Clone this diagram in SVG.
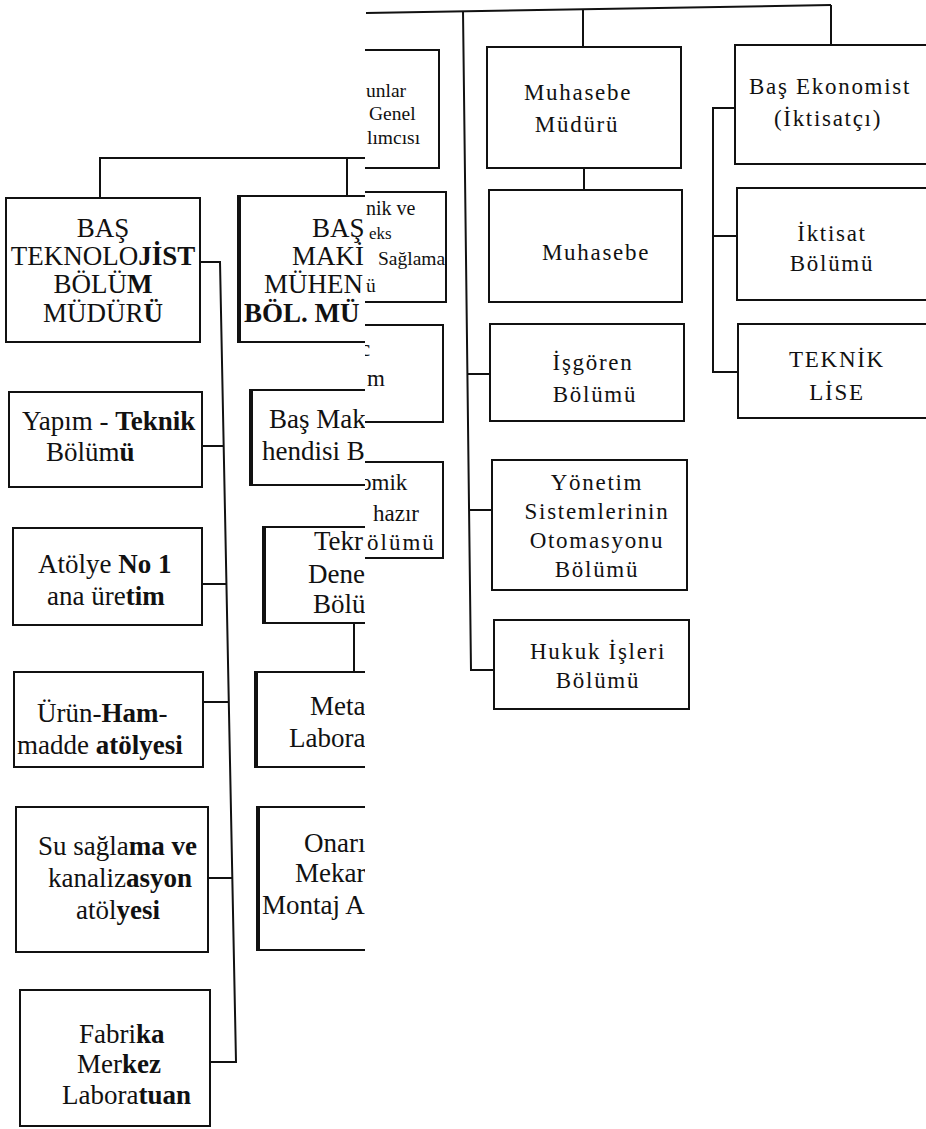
<svg xmlns="http://www.w3.org/2000/svg" width="926" height="1129" viewBox="0 0 926 1129">
<style>
.bx{fill:#fff;stroke:#111;stroke-width:2}
.ln{fill:none;stroke:#111;stroke-width:2}
.thk{fill:none;stroke:#111;stroke-width:4}
.tl{font-family:"Liberation Serif","Times New Roman",serif;font-size:27px;fill:#111}
.tr{font-family:"Liberation Serif","Times New Roman",serif;font-size:23px;letter-spacing:1.7px;fill:#111;text-anchor:middle}
.ts{font-family:"Liberation Serif","Times New Roman",serif;font-size:19.5px;fill:#111}
.tm{font-family:"Liberation Serif","Times New Roman",serif;font-size:23px;fill:#111}
.b{font-weight:bold}
</style>
<defs>
<clipPath id="cl"><rect x="0" y="0" width="365" height="1129"/></clipPath>
<clipPath id="cr"><rect x="365" y="0" width="561" height="1129"/></clipPath>
</defs>
<rect x="0" y="0" width="926" height="1129" fill="#fff"/>

<g id="left-page" clip-path="url(#cl)">
<g id="left-connectors">
<path class="ln" d="M100,198 V158 H366"/>
<path class="ln" d="M347,158 V196"/>
<path class="ln" d="M200,262 H220 L236,1062 H210"/>
<path class="ln" d="M202,446 H224"/>
<path class="ln" d="M202,584 H226"/>
<path class="ln" d="M203,702 H229"/>
<path class="ln" d="M208,878 H233"/>
<path class="ln" d="M354,623 V672"/>
</g>
<g id="n-bas-teknolojist">
<rect class="bx" x="6" y="198" width="194" height="144"/>
<text class="tl" x="103" y="237" text-anchor="middle">BAŞ</text>
<text class="tl" x="103" y="265" text-anchor="middle">TEKNOLO<tspan class="b">JİST</tspan></text>
<text class="tl" x="103" y="293" text-anchor="middle">BÖLÜ<tspan class="b">M</tspan></text>
<text class="tl" x="103" y="322" text-anchor="middle">MÜDÜR<tspan class="b">Ü</tspan></text>
</g>
<g id="n-yapim">
<rect class="bx" x="9" y="392" width="193" height="95"/>
<text class="tl" x="22" y="430">Yapım - <tspan class="b">Teknik</tspan></text>
<text class="tl" x="46" y="461">Bölüm<tspan class="b">ü</tspan></text>
</g>
<g id="n-atolye">
<rect class="bx" x="13" y="528" width="189" height="97"/>
<text class="tl" x="38" y="573">Atölye <tspan class="b">No 1</tspan></text>
<text class="tl" x="47" y="605">ana üre<tspan class="b">tim</tspan></text>
</g>
<g id="n-urun">
<rect class="bx" x="14" y="672" width="189" height="95"/>
<text class="tl" x="37" y="722">Ürün-<tspan class="b">Ham</tspan>-</text>
<text class="tl" x="17" y="754">madde  <tspan class="b">atölyesi</tspan></text>
</g>
<g id="n-su">
<rect class="bx" x="16" y="807" width="192" height="145"/>
<text class="tl" x="38" y="855">Su sağla<tspan class="b">ma ve</tspan></text>
<text class="tl" x="48" y="887">kanaliz<tspan class="b">asyon</tspan></text>
<text class="tl" x="76" y="919">atöl<tspan class="b">yesi</tspan></text>
</g>
<g id="n-fabrika">
<rect class="bx" x="20" y="990" width="190" height="136"/>
<text class="tl" x="79" y="1043">Fabri<tspan class="b">ka</tspan></text>
<text class="tl" x="77" y="1073">Mer<tspan class="b">kez</tspan></text>
<text class="tl" x="62" y="1104">Labora<tspan class="b">tuan</tspan></text>
</g>
<g id="n-bas-makine">
<rect class="bx" x="238" y="196" width="200" height="146"/>
<path class="thk" d="M239,196 V342"/>
<text class="tl" x="312" y="237">BAŞ</text>
<text class="tl" x="292" y="265">MAKİ</text>
<text class="tl" x="264" y="293">MÜHEN</text>
<text class="tl b" x="244" y="322">BÖL. MÜ</text>
</g>
<g id="n-bas-makine-muh">
<rect class="bx" x="250" y="390" width="200" height="95"/>
<path class="thk" d="M251,390 V485"/>
<text class="tl" x="269" y="428">Baş Mak</text>
<text class="tl" x="262" y="460">hendisi B</text>
</g>
<g id="n-tekn">
<rect class="bx" x="263" y="527" width="200" height="96"/>
<path class="thk" d="M264,527 V623"/>
<text class="tl" x="314" y="550">Tekr</text>
<text class="tl" x="308" y="583">Dene</text>
<text class="tl" x="313" y="613">Bölü</text>
</g>
<g id="n-meta">
<rect class="bx" x="255" y="672" width="200" height="95"/>
<path class="thk" d="M256,672 V767"/>
<text class="tl" x="310" y="715">Meta</text>
<text class="tl" x="289" y="747">Labora</text>
</g>
<g id="n-onarim">
<rect class="bx" x="257" y="807" width="200" height="143"/>
<path class="thk" d="M258,807 V950"/>
<text class="tl" x="304" y="852">Onarı</text>
<text class="tl" x="295" y="882">Mekar</text>
<text class="tl" x="262" y="914">Montaj A</text>
</g>
</g>

<g id="right-page" clip-path="url(#cr)">
<g id="right-connectors">
<path class="ln" d="M366,13 L831,5"/>
<path class="ln" d="M463,11 L471,670 H494"/>
<path class="ln" d="M467,374 H490"/>
<path class="ln" d="M469,510 H492"/>
<path class="ln" d="M583,9 V47"/>
<path class="ln" d="M584,168 V190"/>
<path class="ln" d="M831,5 V45"/>
<path class="ln" d="M735,108 H713 V372 H738"/>
<path class="ln" d="M713,236 H737"/>
</g>
<g id="n-genel">
<rect class="bx" x="300" y="50" width="139" height="118"/>
<text class="ts" x="366" y="97">unlar</text>
<text class="ts" x="369" y="120">Genel</text>
<text class="ts" x="367" y="144">lımcısı</text>
</g>
<g id="n-saglama">
<rect class="bx" x="300" y="192" width="146" height="110"/>
<text class="ts" x="366" y="215" style="font-size:20px">nik ve</text>
<text class="ts" x="369" y="239" style="font-size:17px">eks</text>
<text class="ts" x="378" y="265">Sağlama</text>
<text class="ts" x="366" y="292">ü</text>
</g>
<g id="n-m">
<rect class="bx" x="300" y="325" width="143" height="97"/>
<text class="tm" x="360" y="356">c</text>
<text class="tm" x="367" y="386">m</text>
</g>
<g id="n-omik">
<rect class="bx" x="300" y="462" width="143" height="96"/>
<text class="tm" x="360" y="490">omik</text>
<text class="tm" x="373" y="521">hazır</text>
<text class="tm" x="367" y="550" style="letter-spacing:2px">ölümü</text>
</g>
<g id="n-muhasebe-muduru">
<rect class="bx" x="487" y="47" width="194" height="121"/>
<text class="tr" x="578" y="100">Muhasebe</text>
<text class="tr" x="577" y="132">Müdürü</text>
</g>
<g id="n-muhasebe">
<rect class="bx" x="489" y="190" width="193" height="112"/>
<text class="tr" x="596" y="260">Muhasebe</text>
</g>
<g id="n-isgoren">
<rect class="bx" x="490" y="324" width="194" height="97"/>
<text class="tr" x="593" y="370">İşgören</text>
<text class="tr" x="595" y="402">Bölümü</text>
</g>
<g id="n-yonetim">
<rect class="bx" x="492" y="460" width="195" height="130"/>
<text class="tr" x="597" y="490">Yönetim</text>
<text class="tr" x="597" y="519">Sistemlerinin</text>
<text class="tr" x="597" y="548">Otomasyonu</text>
<text class="tr" x="597" y="577">Bölümü</text>
</g>
<g id="n-hukuk">
<rect class="bx" x="494" y="620" width="195" height="89"/>
<text class="tr" x="598" y="659">Hukuk İşleri</text>
<text class="tr" x="598" y="688">Bölümü</text>
</g>
<g id="n-bas-ekonomist">
<rect class="bx" x="735" y="45" width="200" height="119"/>
<text class="tr" x="830" y="94">Baş Ekonomist</text>
<text class="tr" x="828" y="126">(İktisatçı)</text>
</g>
<g id="n-iktisat">
<rect class="bx" x="737" y="188" width="200" height="112"/>
<text class="tr" x="832" y="241">İktisat</text>
<text class="tr" x="832" y="271">Bölümü</text>
</g>
<g id="n-teknik-lise">
<rect class="bx" x="738" y="324" width="200" height="94"/>
<text class="tr" x="837" y="367">TEKNİK</text>
<text class="tr" x="837" y="400">LİSE</text>
</g>
</g>
</svg>
